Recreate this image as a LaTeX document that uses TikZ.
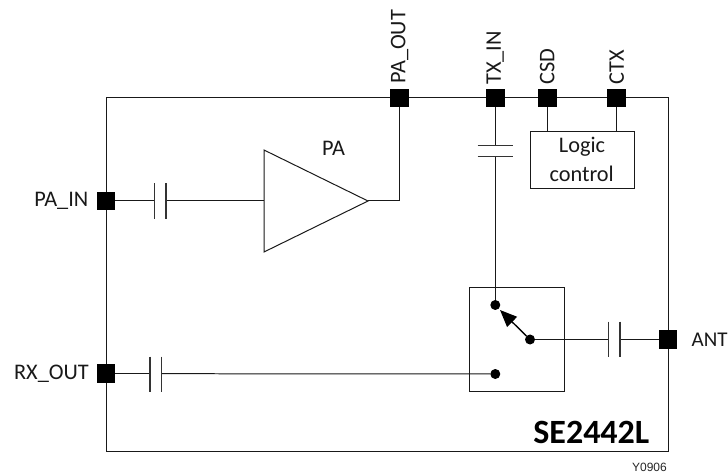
\documentclass[tikz,border=0pt]{standalone}
\usepackage{fontspec}
\setmainfont{Carlito}
\newfontfamily\arialf{Liberation Sans}
\usetikzlibrary{arrows.meta}
\tikzset{
  wire/.style={line width=1pt,draw=black!90},
  pad/.style={fill=black,draw=none,minimum size=18.5bp,inner sep=0,outer sep=0},
  dotn/.style={circle,fill=black,draw=none,minimum size=10bp,inner sep=0,outer sep=0},
  lab/.style={font=\fontsize{22.3bp}{24bp}\selectfont,inner sep=0,text=black!90},
  boxn/.style={draw=black!90,line width=1pt,inner sep=0,outer sep=0},
  plate/.style={line width=1.1pt,draw=black!80}
}
\begin{document}
\begin{tikzpicture}[x=1bp,y=-1bp]
\useasboundingbox (0,0) rectangle (728,473);
\path[clip] (0,0) rectangle (728,473);
\node[boxn,minimum width=562.5bp,minimum height=353.5bp,anchor=north west] (chip) at (106,98) {};
% pads
\node[pad] (paout) at (399.7,98) {};
\node[pad] (txin) at (495.3,98) {};
\node[pad] (csd) at (547.3,98) {};
\node[pad] (ctx) at (616.7,98) {};
\node[pad] (pain) at (106,201) {};
\node[pad] (rxout) at (106,373.7) {};
\node[pad] (ant) at (668,339.5) {};
% pad labels
\node[lab,rotate=90,anchor=west] at (399.7,84) {PA\_OUT};
\node[lab,rotate=90,anchor=west] at (495.3,85) {TX\_IN};
\node[lab,rotate=90,anchor=west] at (547.3,85) {CSD};
\node[lab,rotate=90,anchor=west] at (616.7,85) {CTX};
\node[lab,anchor=east] at (88.5,201) {PA\_IN};
\node[lab,anchor=east] at (89,373.7) {RX\_OUT};
\node[lab,anchor=west,font=\fontsize{21bp}{24bp}\selectfont] at (691.5,339.5) {ANT};
% logic
\node[boxn,minimum width=104bp,minimum height=56bp,anchor=north west] (logic) at (530,132) {};
\node[lab] at (582,147) {Logic};
\node[lab] at (581.7,173.5) {control};
\draw[wire] (csd.south) -- (csd.south |- logic.north);
\draw[wire] (ctx.south) -- (ctx.south |- logic.north);
% PA
\node[lab] at (333.5,148.5) {PA};
\coordinate (tria) at (264,150);
\coordinate (trib) at (264,252);
\coordinate (tric) at (368,201);
\draw[boxn] (tria) -- (tric) -- (trib) -- cycle;
\draw[wire] (tric) -- (399.7,201) -- (paout.south);
% PA_IN cap
\coordinate (c1a) at (154.3,201);
\coordinate (c1b) at (166,201);
\draw[wire] (pain.east) -- (c1a);
\draw[wire] (c1b) -- (264,201);
\draw[plate] (154.3,183.3) -- (154.3,218.7);
\draw[plate] (166,183.3) -- (166,218.7);
% TX cap
\draw[wire] (txin.south) -- (495.3,145.7);
\draw[plate] (477.7,145.7) -- (513,145.7);
\draw[plate] (477.7,156.7) -- (513,156.7);
% switch
\node[boxn,minimum width=95.4bp,minimum height=104bp,anchor=north west] (sw) at (469.3,287.3) {};
\node[dotn] (st) at (495.3,305) {};
\node[dotn] (sr) at (530,339.5) {};
\node[dotn] (sb) at (495.3,374) {};
\draw[wire] (495.3,156.7) -- (st);
\draw[line width=1.4pt,-{Triangle[length=17bp,width=14bp]}] (sr) -- (500,310);
% ANT cap
\draw[wire] (sr) -- (608.7,339.5);
\draw[wire] (620,339.5) -- (ant.west);
\draw[plate] (608.7,321.7) -- (608.7,357);
\draw[plate] (620,321.7) -- (620,357);
% RX cap
\draw[wire] (rxout.east) -- (150,373.7);
\draw[wire] (161.7,373.7) -- (sb);
\draw[plate] (150,356.5) -- (150,391.7);
\draw[plate] (161.7,356.5) -- (161.7,391.7);
% labels
\node[font=\bfseries\fontsize{34bp}{36bp}\selectfont,inner sep=0,anchor=east] at (649.5,432) {SE2442L};
\node[font=\arialf\fontsize{12bp}{13bp}\selectfont,inner sep=0,anchor=east,text=black!85] at (667,467) {Y0906};
\end{tikzpicture}
\end{document}
